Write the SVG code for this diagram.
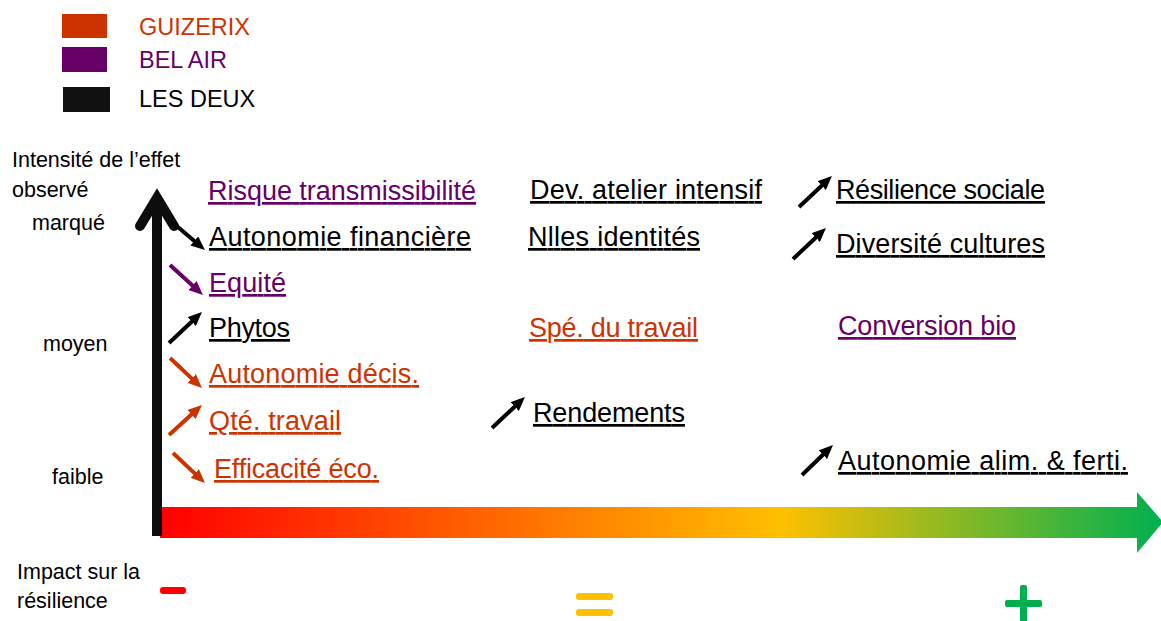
<svg xmlns="http://www.w3.org/2000/svg" width="1161" height="621" viewBox="0 0 1161 621">
<style>
text{font-family:"Liberation Sans",Arial,sans-serif}
.leg{font-size:23.5px}
.ax{font-size:21.5px;fill:#000}
.lab{font-size:27px;text-decoration:underline}
.or{fill:#CC3300}
.pu{fill:#660066}
.bk{fill:#000}
.sa{stroke-width:4;fill:none}
.sbk{stroke:#000;marker-end:url(#hk)}
.sor{stroke:#CC3300;marker-end:url(#ho)}
.spu{stroke:#660066;marker-end:url(#hp)}
</style>
<defs>
<linearGradient id="grad" x1="160" y1="0" x2="1161" y2="0" gradientUnits="userSpaceOnUse">
<stop offset="0" stop-color="#FF0000"/>
<stop offset="0.62" stop-color="#FFC000"/>
<stop offset="1" stop-color="#00B050"/>
</linearGradient>
<marker id="hk" viewBox="0 0 14 12" refX="5" refY="6" markerWidth="14" markerHeight="12" markerUnits="userSpaceOnUse" orient="auto"><path d="M0,0 L14,6 L0,12 z" fill="#000"/></marker>
<marker id="ho" viewBox="0 0 14 12" refX="5" refY="6" markerWidth="14" markerHeight="12" markerUnits="userSpaceOnUse" orient="auto"><path d="M0,0 L14,6 L0,12 z" fill="#CC3300"/></marker>
<marker id="hp" viewBox="0 0 14 12" refX="5" refY="6" markerWidth="14" markerHeight="12" markerUnits="userSpaceOnUse" orient="auto"><path d="M0,0 L14,6 L0,12 z" fill="#660066"/></marker>
</defs>
<rect width="1161" height="621" fill="#fff"/>
<g id="legend">
<rect x="62" y="14" width="45" height="24" fill="#CC3300"/>
<rect x="62" y="47" width="45" height="25" fill="#660066"/>
<rect x="63" y="87" width="47" height="25" fill="#111"/>
<text class="leg or" x="139" y="35">GUIZERIX</text>
<text class="leg pu" x="139" y="68">BEL AIR</text>
<text class="leg bk" x="139" y="107">LES DEUX</text>
</g>
<g id="axes">
<polygon points="160,507 1137,507 1137,492 1163,522 1137,553 1137,538 160,538" fill="url(#grad)"/>
<line x1="157" y1="536" x2="157" y2="200" stroke="#0d0d0d" stroke-width="10"/>
<polyline points="140,226 157,198 174,226" fill="none" stroke="#0d0d0d" stroke-width="10" stroke-linecap="round" stroke-linejoin="miter"/>
<text class="ax" x="12" y="167">Intensité de l’effet</text>
<text class="ax" x="12" y="197">observé</text>
<text class="ax" x="32" y="230">marqué</text>
<text class="ax" x="43" y="351">moyen</text>
<text class="ax" x="52" y="484">faible</text>
<text class="ax" x="17" y="579">Impact sur la</text>
<text class="ax" x="17" y="608">résilience</text>
<rect x="160" y="587" width="26" height="7" rx="3" fill="#FF0000"/>
<rect x="576" y="593" width="37" height="7" rx="3" fill="#FFC000"/>
<rect x="576" y="609" width="37" height="7" rx="3" fill="#FFC000"/>
<rect x="1005" y="600" width="37" height="7" rx="2" fill="#00B050"/>
<rect x="1020" y="585" width="7" height="37" rx="2" fill="#00B050"/>
</g>
<g id="connectors">
<line class="sa sbk" x1="172" y1="222" x2="198.1" y2="244.2"/>
<line class="sa spu" x1="170" y1="265" x2="196.3" y2="288.9"/>
<line class="sa sbk" x1="169" y1="343" x2="195.4" y2="318.2"/>
<line class="sa sor" x1="170" y1="358" x2="195.4" y2="381.9"/>
<line class="sa sor" x1="169" y1="435" x2="195.3" y2="411.1"/>
<line class="sa sor" x1="173" y1="453" x2="198.4" y2="476.9"/>
<line class="sa sbk" x1="492" y1="428" x2="518.4" y2="403.2"/>
<line class="sa sbk" x1="799" y1="207" x2="825.4" y2="182.2"/>
<line class="sa sbk" x1="793" y1="259" x2="819.4" y2="234.2"/>
<line class="sa sbk" x1="802" y1="475" x2="826.5" y2="451.3"/>
</g>
<g id="n-risque"><text class="lab pu" x="208" y="200" textLength="268">Risque transmissibilité</text></g>
<g id="n-autofin"><text class="lab bk" x="209" y="246" textLength="262">Autonomie financière</text></g>
<g id="n-equite"><text class="lab pu" x="209" y="292" textLength="77">Equité</text></g>
<g id="n-phytos"><text class="lab bk" x="209" y="337" textLength="81">Phytos</text></g>
<g id="n-autodec"><text class="lab or" x="209" y="383" textLength="210">Autonomie décis.</text></g>
<g id="n-qte"><text class="lab or" x="209" y="430" textLength="132">Qté. travail</text></g>
<g id="n-effic"><text class="lab or" x="214" y="478" textLength="165">Efficacité éco.</text></g>
<g id="n-dev"><text class="lab bk" x="530" y="199" textLength="232">Dev. atelier intensif</text></g>
<g id="n-nlles"><text class="lab bk" x="528" y="246" textLength="172">Nlles identités</text></g>
<g id="n-spe"><text class="lab or" x="529" y="337" textLength="169">Spé. du travail</text></g>
<g id="n-resil"><text class="lab bk" x="836" y="199" textLength="209">Résilience sociale</text></g>
<g id="n-divers"><text class="lab bk" x="836" y="253" textLength="209">Diversité cultures</text></g>
<g id="n-conv"><text class="lab pu" x="838" y="335" textLength="178">Conversion bio</text></g>
<g id="n-rend"><text class="lab bk" x="533" y="422" textLength="152">Rendements</text></g>
<g id="n-autoalim"><text class="lab bk" x="838" y="470" textLength="290">Autonomie alim. &amp; ferti.</text></g>
</svg>
